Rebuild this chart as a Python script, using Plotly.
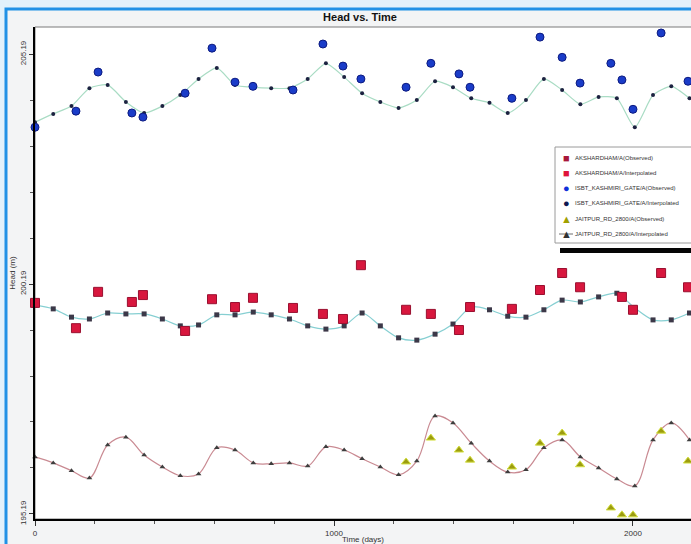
import plotly.graph_objects as go

# ---- data -------------------------------------------------------------
interp_days = [0, 61, 122, 182, 243, 304, 365, 426, 486, 547, 608, 669, 730,
               790, 851, 912, 973, 1034, 1094, 1155, 1216, 1277, 1338, 1398,
               1459, 1520, 1581, 1642, 1702, 1763, 1824, 1885, 1946, 2006,
               2067, 2128, 2189]

isbt_obs_days = [0, 137, 211, 324, 361, 502, 592, 669, 729, 863, 963, 1030,
                 1090, 1241, 1324, 1418, 1455, 1595, 1689, 1763, 1823, 1926,
                 1963, 2000, 2094, 2184]
isbt_obs = [203.60, 203.95, 204.80, 203.91, 203.82, 204.34, 205.32, 204.58,
            204.49, 204.41, 205.41, 204.93, 204.65, 204.47, 204.99, 204.76,
            204.47, 204.23, 205.56, 205.12, 204.56, 204.99, 204.63, 203.99,
            205.65, 204.60]
isbt_interp = [203.71, 203.89, 204.06, 204.45, 204.52, 204.15, 203.91, 204.06,
               204.30, 204.65, 204.89, 204.52, 204.47, 204.45, 204.45, 204.65,
               204.99, 204.69, 204.34, 204.15, 204.02, 204.19, 204.60, 204.47,
               204.23, 204.13, 203.91, 204.19, 204.65, 204.41, 204.10, 204.26,
               204.23, 203.60, 204.30, 204.49, 204.23]

aksh_obs_days = [0, 137, 211, 324, 361, 502, 592, 669, 729, 863, 963, 1030,
                 1090, 1241, 1324, 1418, 1455, 1595, 1689, 1763, 1823, 1963,
                 2000, 2094, 2184]
aksh_obs = [199.78, 199.23, 200.02, 199.80, 199.95, 199.17, 199.86, 199.69,
            199.89, 199.67, 199.54, 199.43, 200.60, 199.63, 199.54, 199.19,
            199.69, 199.65, 200.06, 200.43, 200.12, 199.91, 199.63, 200.43,
            200.12]
aksh_interp = [199.73, 199.65, 199.47, 199.43, 199.56, 199.54, 199.54, 199.43,
               199.28, 199.30, 199.52, 199.52, 199.58, 199.52, 199.43, 199.28,
               199.21, 199.28, 199.56, 199.28, 199.02, 198.97, 199.10, 199.32,
               199.69, 199.63, 199.49, 199.47, 199.63, 199.84, 199.80, 199.91,
               199.99, 199.67, 199.41, 199.41, 199.56]

jait_obs_days = [1241, 1324, 1418, 1455, 1595, 1689, 1763, 1823, 1926, 1963,
                 2000, 2094, 2184]
jait_obs = [196.32, 196.84, 196.58, 196.36, 196.21, 196.73, 196.95, 196.26,
            195.32, 195.17, 195.17, 196.99, 196.34]
jait_interp = [196.43, 196.30, 196.13, 195.97, 196.69, 196.86, 196.47, 196.21,
               196.02, 196.06, 196.63, 196.58, 196.30, 196.28, 196.30, 196.23,
               196.65, 196.58, 196.39, 196.21, 196.04, 196.34, 197.32, 197.17,
               196.73, 196.34, 196.10, 196.15, 196.63, 196.80, 196.43, 196.19,
               195.95, 195.80, 196.80, 197.17, 196.80]

legend_names = ["AKSHARDHAM/A(Observed)", "AKSHARDHAM/A/Interpolated",
                "ISBT_KASHMIRI_GATE/A(Observed)", "ISBT_KASHMIRI_GATE/A/Interpolated",
                "JAITPUR_RD_2800/A(Observed)", "JAITPUR_RD_2800/A/Interpolated"]

y_tick_vals = [195.19, 200.19, 205.19]
y_tick_text = ["195.19", "200.19", "205.19"]
x_tick_vals = [0, 1000, 2000]
x_tick_text = ["0", "1000", "2000"]

# ---- geometry (pixels) ------------------------------------------------
W, H = 691, 544
L, R, T, B = 35, 0, 27, 25
PW, PH = W - L - R, H - T - B


def px(x):
    return (x - L) / PW


def py(y):
    return (H - B - y) / PH


NARROW = "Liberation Sans Narrow, Arial Narrow, Liberation Sans, Arial"

fig = go.Figure()

# interpolated series (smooth lines with small markers)
fig.add_trace(go.Scatter(x=interp_days, y=isbt_interp, mode="lines+markers",
                         line=dict(color="#a9dcc4", width=1.2, shape="spline", smoothing=0.6),
                         marker=dict(symbol="circle", size=4, color="#1c2240"),
                         showlegend=False, cliponaxis=False))
fig.add_trace(go.Scatter(x=interp_days, y=aksh_interp, mode="lines+markers",
                         line=dict(color="#86cfd2", width=1.2, shape="spline", smoothing=0.8),
                         marker=dict(symbol="square", size=5, color="#3c3848"),
                         showlegend=False, cliponaxis=False))
fig.add_trace(go.Scatter(x=interp_days, y=jait_interp, mode="lines+markers",
                         line=dict(color="#c98a92", width=1.2, shape="spline", smoothing=1.0),
                         marker=dict(symbol="triangle-up", size=5, color="#3e3e3e"),
                         showlegend=False, cliponaxis=False))

# observed series
fig.add_trace(go.Scatter(x=isbt_obs_days, y=isbt_obs, mode="markers",
                         marker=dict(symbol="circle", size=8, color="#1a3cc8",
                                     line=dict(color="#0c1a80", width=1)),
                         showlegend=False, cliponaxis=False))
fig.add_trace(go.Scatter(x=aksh_obs_days, y=aksh_obs, mode="markers",
                         marker=dict(symbol="square", size=9, color="#d8173e",
                                     line=dict(color="#9a1030", width=1)),
                         showlegend=False, cliponaxis=False))
fig.add_trace(go.Scatter(x=jait_obs_days, y=jait_obs, mode="markers",
                         marker=dict(symbol="triangle-up", size=8, color="#9c9c10",
                                     line=dict(color="#d4e040", width=1)),
                         showlegend=False, cliponaxis=False))

shapes = [
    # outer blue frame with light panel
    dict(type="rect", xref="paper", yref="paper", layer="below",
         x0=px(6), x1=px(720), y0=py(580), y1=py(9),
         fillcolor="#f3f4f5", line=dict(color="#2091e6", width=3)),
    # white plotting area
    dict(type="rect", xref="paper", yref="paper", layer="below",
         x0=0, x1=1.01, y0=0, y1=1, fillcolor="#ffffff",
         line=dict(color="#7a7a7a", width=1)),
    # legend box
    dict(type="rect", xref="paper", yref="paper",
         x0=px(555), x1=px(700), y0=py(243), y1=py(147),
         fillcolor="#ffffff", line=dict(color="#9a9a9a", width=1)),
    # dark band under the legend
    dict(type="rect", xref="paper", yref="paper",
         x0=px(560), x1=px(700), y0=py(253), y1=py(248),
         fillcolor="#050505", line=dict(width=0)),
]

annotations = []
legend_glyphs = [("■", "#a8173a"), ("■", "#e0143a"), ("●", "#1030d8"),
                 ("●", "#101850"), ("▲", "#a0a000"), ("▲", "#303030")]
row_y = [158, 173, 188, 203, 219, 234]
for name, (glyph, col), yy in zip(legend_names, legend_glyphs, row_y):
    annotations.append(dict(xref="paper", yref="paper", x=px(566), y=py(yy),
                            text=glyph, showarrow=False, xanchor="center",
                            yanchor="middle", font=dict(size=11, color=col)))
    annotations.append(dict(xref="paper", yref="paper", x=px(573), y=py(yy),
                            text=name, showarrow=False, xanchor="left",
                            yanchor="middle",
                            font=dict(size=6, color="#333333", family=NARROW)))
shapes.append(dict(type="line", xref="paper", yref="paper",
                   x0=px(559), x1=px(573), y0=py(234), y1=py(234),
                   line=dict(color="#707070", width=1)))

fig.update_layout(
    width=W, height=H,
    margin=dict(l=L, r=R, t=T, b=B),
    paper_bgcolor="#e2f1fb",
    plot_bgcolor="rgba(0,0,0,0)",
    title=dict(text="<b>Head vs. Time</b>", x=(360 / W), y=1 - 17 / H,
               xanchor="center", yanchor="middle",
               font=dict(size=11, color="#111111", family=NARROW)),
    font=dict(family=NARROW, color="#333333"),
    shapes=shapes,
    annotations=annotations,
    showlegend=False,
)

fig.update_xaxes(range=[0, 2194], showgrid=False, zeroline=False,
                 showline=True, linecolor="#000000", linewidth=2,
                 tickvals=x_tick_vals, ticktext=x_tick_text,
                 ticks="outside", ticklen=5, tickcolor="#333333",
                 tickfont=dict(size=8, color="#333333"),
                 minor=dict(dtick=200, tick0=0, ticks="outside", ticklen=3,
                            tickcolor="#555555"),
                 title=dict(text="Time (days)", font=dict(size=8, color="#333333"),
                            standoff=2))

fig.update_yaxes(range=[195.08, 205.78], showgrid=False, zeroline=False,
                 showline=True, linecolor="#000000", linewidth=2,
                 tickvals=y_tick_vals, ticktext=y_tick_text, tickangle=-90,
                 ticks="outside", ticklen=4, tickcolor="#333333",
                 tickfont=dict(size=8, color="#333333"),
                 minor=dict(dtick=1, tick0=195.19, ticks="outside", ticklen=3,
                            tickcolor="#555555"),
                 title=dict(text="Head (m)", font=dict(size=8, color="#333333"),
                            standoff=2))

fig.write_html("out.html")
